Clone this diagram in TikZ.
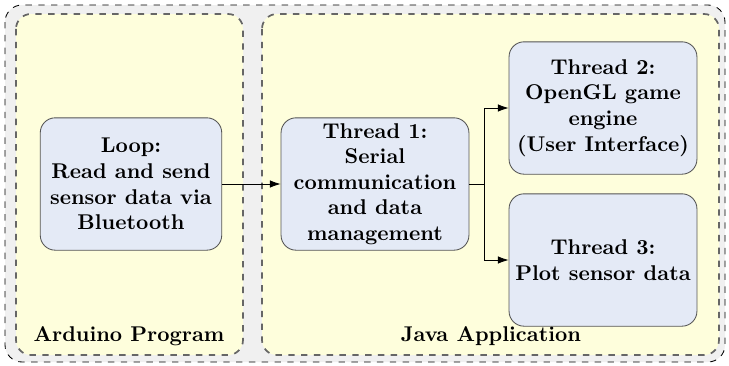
\documentclass[tikz,border=0pt]{standalone}
\usetikzlibrary{arrows.meta, positioning}
\definecolor{outerbg}{HTML}{F0F0F0}
\definecolor{panelbg}{HTML}{FEFEDC}
\definecolor{boxbg}{HTML}{E4EAF6}
\definecolor{boxline}{HTML}{555555}

\tikzset{
  panel/.style={draw=black!60, dashed, thick, fill=panelbg, rounded corners=7pt},
  threadbox/.style={draw=boxline, fill=boxbg, rounded corners=7pt, align=center,
    font=\bfseries, minimum width=88pt, minimum height=62pt, inner sep=2pt},
  link/.style={-{Latex[length=5pt,width=3.5pt]}, thin}
}

\begin{document}
\begin{tikzpicture}[x=0.4684pt, y=-0.4684pt]
  \useasboundingbox (0,0) rectangle (729,365);
  % Background frames
  \draw[dashed, thin, fill=outerbg, rounded corners=8pt] (5,5) rectangle (725,362);
  \draw[panel] (16,14) rectangle (243,355);
  \draw[panel] (262,14) rectangle (719,355);
  \node[font=\bfseries] (ardlabel) at (129,336) {Arduino Program};
  \node[font=\bfseries] (javalabel) at (491,336) {Java Application};

  % Program blocks
  \node[threadbox, minimum width=85pt] (loop) at (131,184) {Loop:\\Read and send\\sensor data via\\Bluetooth};
  \node[threadbox] (serial) at (375,184) {Thread 1:\\Serial\\communication\\and data\\management};
  \node[threadbox] (opengl) at (603,108) {Thread 2:\\OpenGL game\\engine\\(User Interface)};
  \node[threadbox] (plot) at (603,260) {Thread 3:\\Plot sensor data};

  % Data flow
  \coordinate (split) at (484,184);
  \draw[link] (loop) -- (serial);
  \draw (serial) -- (split);
  \draw[link] (split) |- (opengl.west);
  \draw[link] (split) |- (plot.west);
\end{tikzpicture}
\end{document}
